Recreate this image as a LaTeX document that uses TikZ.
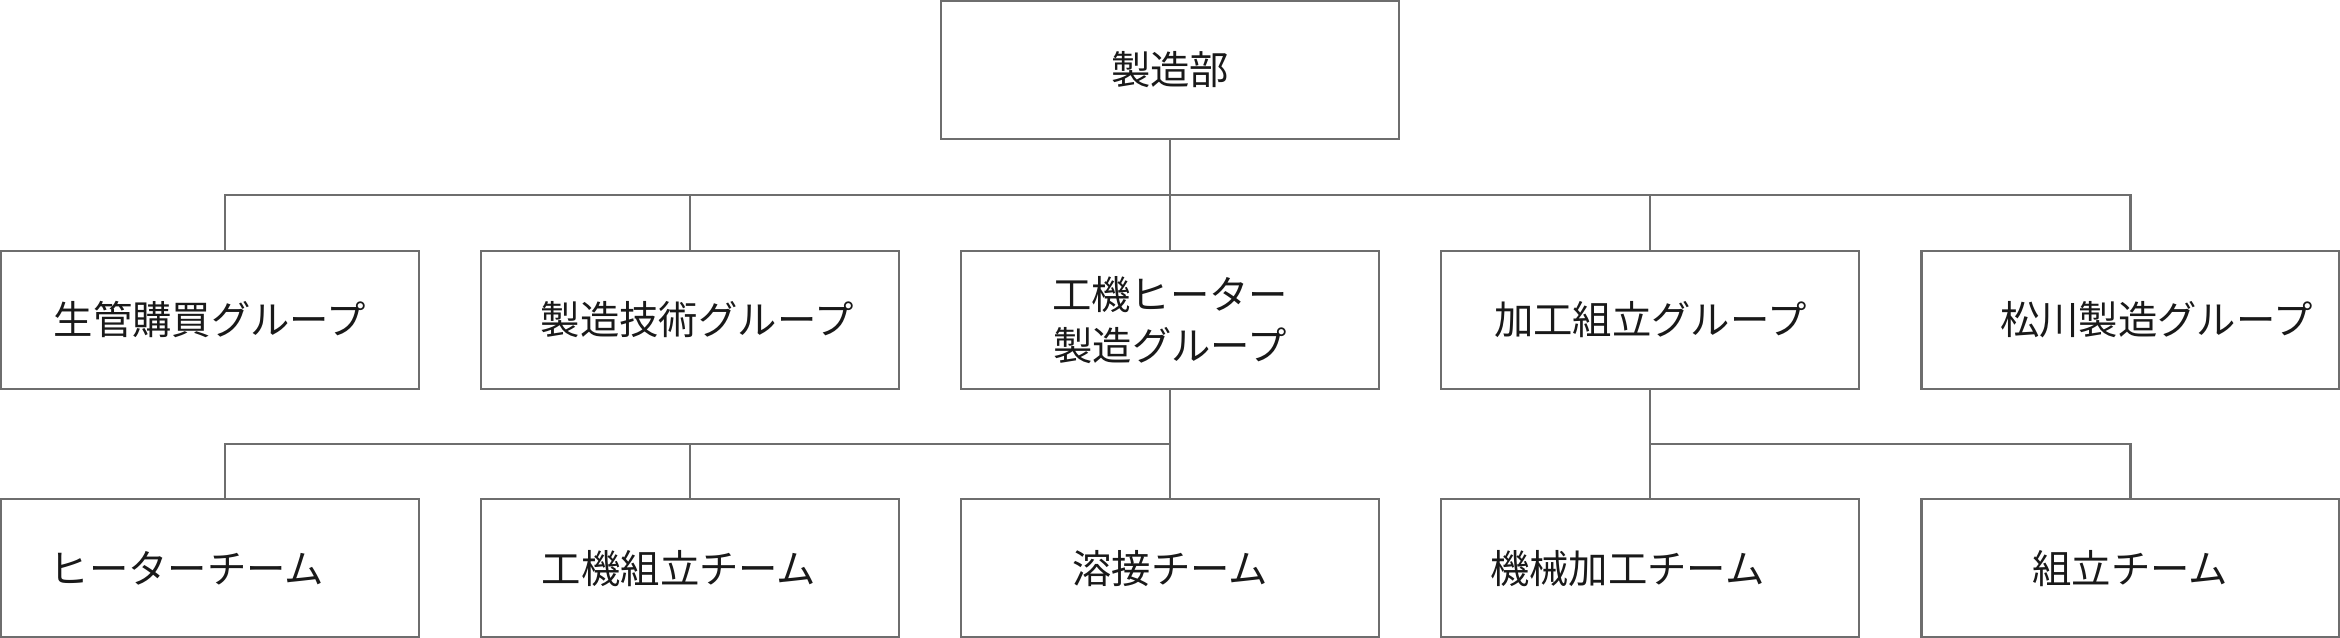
\documentclass[tikz,border=0pt]{standalone}
\usepackage{fontspec}
\setmainfont{Noto Sans CJK JP}
\usepackage{tikz}
\usetikzlibrary{positioning}
\definecolor{linegray}{HTML}{6E6E6E}

\begin{document}
\begin{tikzpicture}[box/.style={draw=linegray, line width=0.6pt, minimum width=4.18cm, minimum height=1.38cm,
    inner sep=0pt, align=center, text=black!90, font=\fontsize{11.2pt}{14.5pt}\selectfont},
  link/.style={draw=linegray, line width=0.6pt}, node distance=1.1cm and 0.6cm]
\useasboundingbox (0,0) rectangle (23.40,-6.38);
% groups
\node[box] (b1) at (2.10,-3.20) {生管購買グループ}; \node[box, right=of b1] (b2) {\hspace*{1.4mm}製造技術グループ};
\node[box, right=of b2] (b3) {工機ヒーター\\製造グループ}; \node[box, right=of b3] (b4) {加工組立グループ};
\node[box, right=of b4] (b5) {\hspace*{5.2mm}松川製造グループ};
\node[box, minimum width=4.58cm, above=of b3] (top) {製造部};
% teams
\node[box, below=1.08cm of b1] (t1) {ヒーターチーム\hspace*{4.6mm}}; \node[box, below=1.08cm of b2] (t2) {工機組立チーム\hspace*{2.2mm}};
\node[box, below=1.08cm of b3] (t3) {溶接チーム}; \node[box, below=1.08cm of b4] (t4) {機械加工チーム\hspace*{4.6mm}};
\node[box, below=1.08cm of b5] (t5) {組立チーム};
% connectors
\path (top.south) -- (b3.north) coordinate[midway] (bus1);
\draw[link] (top) -- (b3);
\draw[link] ([xshift=1.5mm]b1.north) |- (bus1) -| (b5.north);
\draw[link] (b2.north) -- (b2.north |- bus1); \draw[link] (b4.north) -- (b4.north |- bus1);
\path (b3.south) -- (t3.north) coordinate[midway] (bus2);
\draw[link] (b3) -- (t3);
\draw[link] ([xshift=1.5mm]t1.north) |- (bus2);
\draw[link] (t2.north) -- (t2.north |- bus2);
\path (b4.south) -- (t4.north) coordinate[midway] (bus3);
\draw[link] (b4) -- (t4);
\draw[link] (bus3) -| (t5.north);
\end{tikzpicture}
\end{document}
